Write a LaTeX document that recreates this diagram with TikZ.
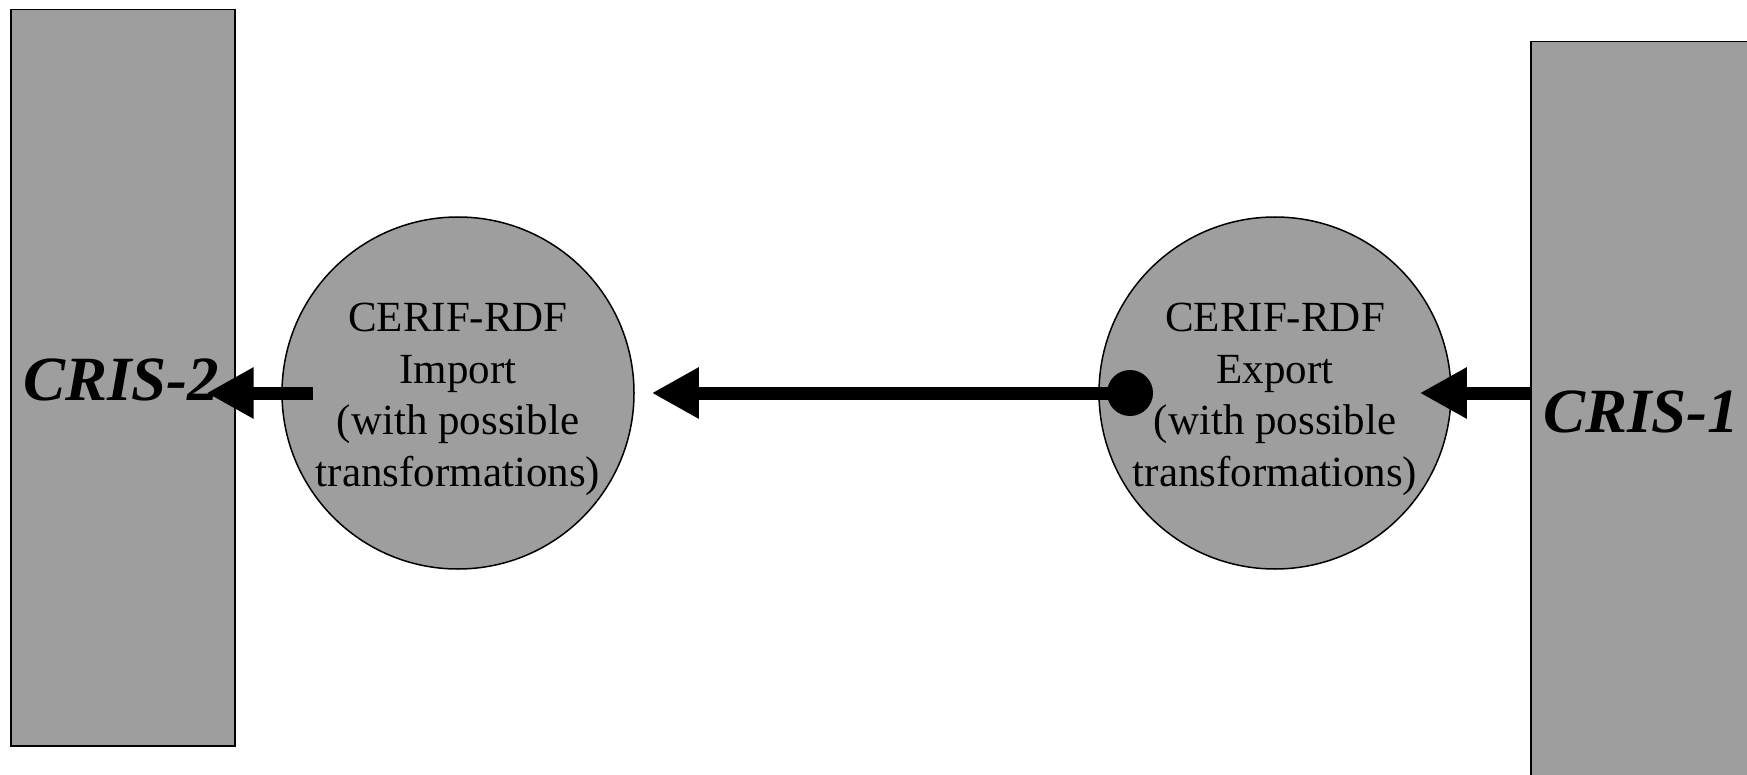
\documentclass[tikz,border=0pt]{standalone}
\usepackage{fontspec}
\setmainfont{Liberation Serif}
\usetikzlibrary{arrows.meta,calc}
\definecolor{boxgray}{RGB}{158,158,158}
\begin{document}
\begin{tikzpicture}[x=1pt,y=-1pt,
  sysbox/.style={draw=black, line width=1.5pt, fill=boxgray, rectangle, inner sep=0pt, anchor=north west},
  proc/.style={draw=black, line width=1.5pt, fill=boxgray, circle, inner sep=0pt, minimum size=352pt},
  proctext/.style={anchor=base, inner sep=0pt, font=\fontsize{43}{51.5}\selectfont},
  systext/.style={anchor=base west, inner sep=0pt, font=\fontsize{63}{70}\selectfont\bfseries\itshape},
  flow/.style={line width=13pt, -{Triangle[length=47pt,width=48pt]}},
]
\useasboundingbox (0,0) rectangle (1747,775);
\clip (0,0) rectangle (1747,775);
\node[sysbox, minimum width=224pt, minimum height=736pt] (cris2) at (10,9) {};
\node[sysbox, minimum width=240pt, minimum height=760pt] (cris1) at (1530,41) {};
\node[proc] (imp) at (458,393) {};
\node[proc] (exp) at (1275,393) {};
\node[proctext] (imptext) at (458,332) {\begin{tabular}[t]{@{}c@{}}CERIF-RDF\\Import\\(with possible\\transformations)\end{tabular}};
\node[proctext] (exptext) at (1275,332) {\begin{tabular}[t]{@{}c@{}}CERIF-RDF\\Export\\(with possible\\transformations)\end{tabular}};
\node[systext] (cris2text) at (23,400) {CRIS-2};
\node[systext] (cris1text) at (1543,432) {CRIS-1};
\coordinate (dot) at (1130,393);
\draw[flow] ($(imp.west)+(32,0)$) -- ($(cris2.east |- imp.center)+(-29,0)$);
\draw[flow] (dot) -- ($(imp.east)+(17,0)$);
\draw[flow] (cris1.west |- exp.center) -- ($(exp.east)+(-32,0)$);
\fill[black] (dot) circle (23pt);
\end{tikzpicture}
\end{document}
